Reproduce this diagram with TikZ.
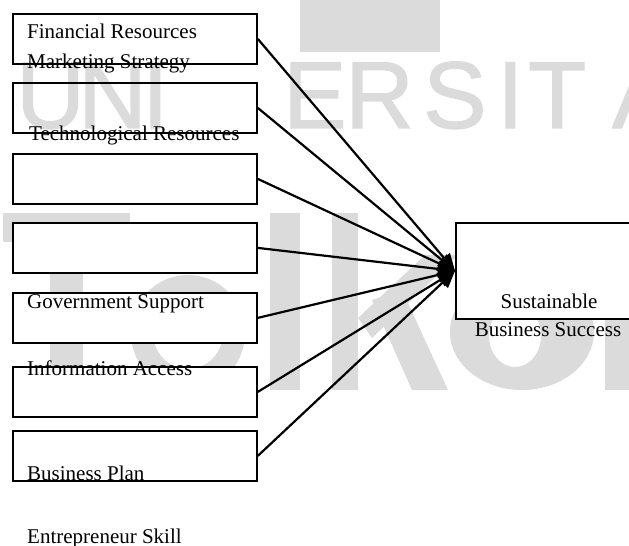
\documentclass[tikz,border=0pt]{standalone}
\usepackage{fontspec}
\setmainfont{Liberation Serif}
\newfontfamily\wmfont[FakeBold=1.4]{Liberation Sans}
\usetikzlibrary{arrows.meta}

\begin{document}
\begin{tikzpicture}[x=1pt, y=-1pt,
    box/.style={draw, line width=1.8pt, inner sep=0pt, minimum width=244pt, minimum height=50pt, anchor=north west},
    lbl/.style={anchor=base west, inner sep=0pt, font=\fontsize{21}{24}\selectfont},
    link/.style={line width=2.2pt, -{Triangle[length=17pt, width=15pt]}},
    wmtext/.style={anchor=base west, inner sep=0pt, text=black!14, font=\wmfont\fontsize{95}{95}\selectfont},
    wm/.style={fill=black!14}]
  \useasboundingbox (0,0) rectangle (629,546);
  \clip (0,0) rectangle (629,546);

  % watermark behind the diagram
  \fill[wm] (300,0) rectangle (440,52);
  \foreach \ch/\x [count=\i] in {U/16, N/78, I/142, E/283, R/345, S/423, I/497, T/528, A/612}
    \node[wmtext] (wm\i) at (\x,128) {\ch};
  \fill[wm] (3,213) rectangle (130,242);
  \fill[wm] (50,213) rectangle (83,390);
  \draw[black!14, line width=22pt] (188,333) ellipse [x radius=46, y radius=47];
  \fill[wm] (270,213) rectangle (300,390);
  \fill[wm] (332,213) rectangle (358,390);
  \fill[wm] (358,318) -- (425,255) -- (458,255) -- (372,338) -- cycle;
  \fill[wm] (372,300) -- (402,290) -- (448,390) -- (412,390) -- cycle;
  \fill[wm, even odd rule] (522,332) ellipse [x radius=72, y radius=58]
    (515,336) ellipse [x radius=26, y radius=31];
  \fill[wm] (605,280) rectangle (629,390);

  % factor boxes
  \node[box] (var1) at (12,13) {};
  \node[box] (var2) at (12,82) {};
  \node[box, fill=white] (var3) at (12,153) {};
  \node[box, fill=white] (var4) at (12,222) {};
  \node[box, fill=white] (var5) at (12,292) {};
  \node[box, fill=white] (var6) at (12,366) {};
  \node[box, fill=white] (var7) at (12,430) {};
  \node[box, fill=white, minimum width=200pt, minimum height=96pt] (sbs) at (455,222) {};

  % labels
  \node[lbl] (fin) at (27,38) {Financial Resources};
  \node[lbl] (mkt) at (27,68) {Marketing Strategy};
  \node[lbl] (tech) at (29,140) {Technological Resources};
  \node[lbl] (gov) at (27,308) {Government Support};
  \node[lbl] (info) at (27,375) {Information Access};
  \node[lbl] (plan) at (27,480) {Business Plan};
  \node[lbl] (skill) at (27,543) {Entrepreneur Skill};
  \node[lbl, anchor=base] (sus) at (549,308) {Sustainable};
  \node[lbl, anchor=base] (succ) at (548,336) {Business Success};

  % arrows into the outcome
  \foreach \b in {var1,var2,var3,var4,var5,var6,var7}
    \draw[link] (\b.east) -- (sbs.west);
\end{tikzpicture}
\end{document}
